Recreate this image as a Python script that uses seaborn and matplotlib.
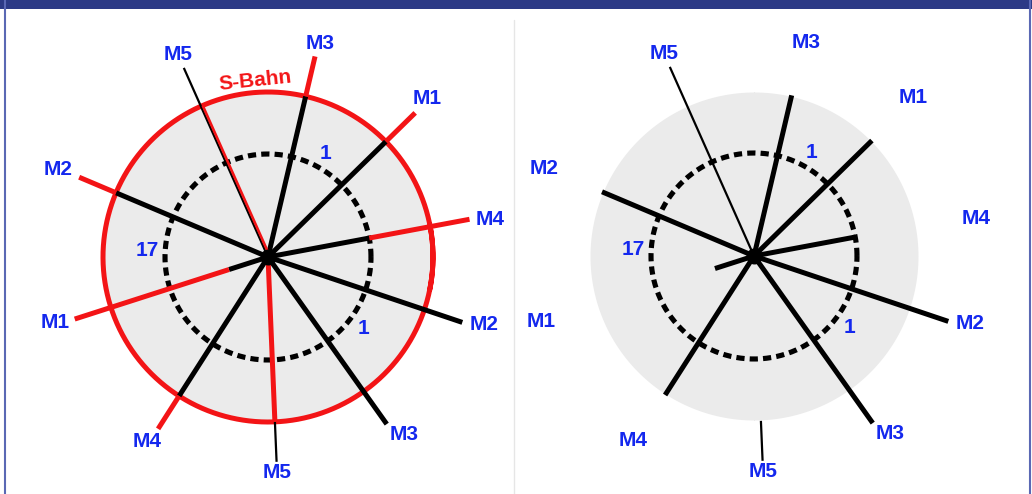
import numpy as np
import pandas as pd
import matplotlib
matplotlib.use('Agg')
import matplotlib.pyplot as plt
import matplotlib.transforms as mtransforms
import seaborn as sns
from matplotlib.patches import Rectangle
from matplotlib.lines import Line2D

sns.set_style('white')
plt.rcParams['font.family'] = ['Liberation Sans', 'DejaVu Sans']

# spokes: label, direction (deg, counter-clockwise from east)
spoke_labels = ['M3', 'M1', 'M4', 'M2', 'M3', 'M5', 'M4', 'M1', 'M2', 'M5']
spoke_angles = [76.8, 44.4, 10.6, -18.6, -54.6, -87.6, -122.6, 197.8, 157.1, 114.0]
label_angles = [76.3, 44.8, 9.7, -17.4, -52.6, -87.6, -123.2, 197.2, 157.3, 113.9]
label_radii = [220, 225, 225, 227, 224, 216, 221, 223, 228, 222]
# black part of each spoke (radius from / to) and its weight
black_from = [0, 0, 0, 0, 0, 165, 0, 0, 0, 0]
black_to = [165, 165, 103, 205, 205, 205, 165, 41, 165, 207]
black_weight = ['thick'] * 5 + ['thin'] + ['thick'] * 3 + ['thin']
# red part (S-Bahn) on the left panel
red_from = [165, 165, 103, None, None, 0, 165, 41, 165, 0]
red_to = [206, 206, 205, None, None, 165, 204, 203, 205, 165]
red_weight = ['thick'] * 9 + ['thin']

# rings
disc_r = 164
sbahn_r = 165
dash_r = 103

# station numbers on the dashed ring
num_labels = ['1', '1', '17']
num_angles = [60.9, -36.8, 177.0]
num_radii = [119, 119, 121]

blue = '#1428ee'
red = '#f31416'
gray = '#ebebeb'
THICK, THIN = 3.6, 1.6


def spoke_frame(with_red):
    rows = []
    for i, ang in enumerate(spoke_angles):
        th = np.deg2rad(ang)
        for r in (black_from[i], black_to[i]):
            rows.append(dict(seg=f'b{i}', theta=th, r=r, color='black',
                             weight=black_weight[i]))
        if with_red and red_from[i] is not None and red_weight[i] == 'thick':
            for r in (red_from[i], red_to[i]):
                rows.append(dict(seg=f'r{i}', theta=th, r=r, color='red',
                                 weight='thick'))
    return pd.DataFrame(rows)


def draw_panel(ax, with_red):
    ring = np.linspace(0, 2 * np.pi, 500)
    ax.fill_between(ring, 0, disc_r, color=gray, lw=0)
    if with_red:
        closed = np.linspace(-0.2, 2 * np.pi + 0.2, 540)
        ax.plot(closed, np.full_like(closed, sbahn_r), color=red, lw=THICK,
                solid_capstyle='round', solid_joinstyle='round')
    ax.plot(ring, np.full_like(ring, dash_r), color='black', lw=3.7,
            ls=(0, (1.6, 1.0)))

    df = spoke_frame(with_red)
    sns.lineplot(data=df, x='theta', y='r', hue='color', units='seg',
                 size='weight', sizes={'thick': THICK, 'thin': THIN},
                 palette={'black': 'black', 'red': red}, estimator=None,
                 sort=False, legend=False, ax=ax, solid_capstyle='butt')

    if with_red:
        # thin M5 line: red strand drawn next to the black one
        i = red_weight.index('thin')
        th = np.deg2rad(spoke_angles[i])
        off = mtransforms.offset_copy(ax.transData, fig=ax.figure,
                                      x=1.8, y=0.8, units='dots')
        ax.plot([th, th], [red_from[i], red_to[i]], color=red, lw=1.9,
                transform=off, solid_capstyle='butt')

    ax.plot([0], [0], 'o', color='black', ms=10.5)

    for lab, ang, r in zip(spoke_labels, label_angles, label_radii):
        ax.text(np.deg2rad(ang), r, lab, ha='center', va='center',
                fontsize=15, fontweight='bold', color=blue, clip_on=False)
    for lab, ang, r in zip(num_labels, num_angles, num_radii):
        ax.text(np.deg2rad(ang), r, lab, ha='center', va='center',
                fontsize=15, fontweight='bold', color=blue, clip_on=False)
    if with_red:
        ax.text(np.deg2rad(94.2), 177, 'S-Bahn', ha='center', va='center',
                fontsize=15, fontweight='bold', color=red, rotation=6)

    ax.set_ylim(0, 250)
    ax.set_axis_off()


W, H = 1032, 494
fig = plt.figure(figsize=(W / 100, H / 100), dpi=100)
fig.patch.set_facecolor('white')

R = 250
centers = [(268, 257), (754, 256)]
for (cx, cy), with_red in zip(centers, [True, False]):
    ax = fig.add_axes([(cx - R) / W, (H - cy - R) / H, 2 * R / W, 2 * R / H],
                      projection='polar')
    draw_panel(ax, with_red)

# frame: title band, side borders, divider
fig.add_artist(Rectangle((0, 1 - 9 / H), 1, 9 / H, transform=fig.transFigure,
                         color='#2c3a86', lw=0))
fig.add_artist(Line2D([4.5 / W, 4.5 / W], [0, 1], transform=fig.transFigure,
                      color='#5a68b4', lw=1.5))
fig.add_artist(Line2D([1029.5 / W, 1029.5 / W], [0, 1], transform=fig.transFigure,
                      color='#5a68b4', lw=1.5))
fig.add_artist(Line2D([514 / W, 514 / W], [0, 1 - 20 / H], transform=fig.transFigure,
                      color='#e6e6e6', lw=1))

fig.savefig('out.png', dpi=100)
